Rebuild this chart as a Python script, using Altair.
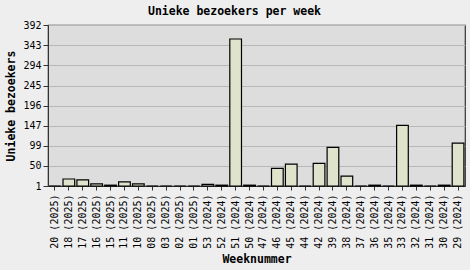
import altair as alt
import pandas as pd

# Weekly unique visitors, newest week first
weeks = ["20 (2025)", "18 (2025)", "17 (2025)", "16 (2025)", "15 (2025)",
         "11 (2025)", "10 (2025)", "08 (2025)", "03 (2025)", "02 (2025)",
         "01 (2025)", "53 (2024)", "52 (2024)", "51 (2024)", "50 (2024)",
         "47 (2024)", "46 (2024)", "45 (2024)", "44 (2024)", "42 (2024)",
         "39 (2024)", "38 (2024)", "37 (2024)", "36 (2024)", "35 (2024)",
         "33 (2024)", "32 (2024)", "31 (2024)", "30 (2024)", "29 (2024)"]
visitors = [1, 18, 16, 6, 3,
            11, 6, 1, 1, 1,
            1, 5, 3, 358, 3,
            1, 44, 54, 1, 56,
            95, 25, 1, 3, 1,
            148, 3, 1, 3, 105]
y_ticks = [1, 50, 99, 147, 196, 245, 294, 343, 392]

df = pd.DataFrame({"week": weeks, "visitors": visitors})

FONT = "DejaVu Sans Mono"

bars = alt.Chart(df).transform_calculate(
    base="1"
).mark_bar(
    fill="#dfe3cb", stroke="#000000", strokeWidth=1.2
).encode(
    x=alt.X("week:N", sort=None, title="Weeknummer",
            scale=alt.Scale(paddingInner=0.16, paddingOuter=0.08),
            axis=alt.Axis(labelAngle=270, labelFont=FONT, labelFontSize=10,
                          labelColor="#000000", labelPadding=4,
                          titleFont=FONT, titleFontSize=11.5, titleFontWeight="bold",
                          titleColor="#000000", titlePadding=5,
                          domainColor="#333333", tickColor="#333333", tickSize=4,
                          grid=False)),
    y=alt.Y("visitors:Q", title="Unieke bezoekers",
            scale=alt.Scale(domain=[1, 392], nice=False, zero=False),
            axis=alt.Axis(values=y_ticks, labelFont=FONT, labelFontSize=10,
                          labelColor="#000000", labelPadding=2,
                          titleFont=FONT, titleFontSize=11.5, titleFontWeight="bold",
                          titleColor="#000000", titlePadding=6,
                          domainColor="#333333", tickColor="#333333", tickSize=5,
                          grid=True, gridColor="#b8b8b8", gridWidth=1.2)),
    y2=alt.Y2("base:Q"),
)

chart = bars.properties(
    width=417,
    height=161,
    autosize=alt.AutoSizeParams(type="none"),
    padding={"left": 48, "top": 25, "right": 5, "bottom": 84},
    background="#eeeeee",
    title=alt.TitleParams("Unieke bezoekers per week", font=FONT, fontSize=11.5,
                          fontWeight="bold", color="#000000", offset=3, dx=-22,
                          anchor="middle"),
).configure_view(
    fill="#dddddd", stroke="#333333", strokeWidth=1.2
)

chart.save("out.html", embed_options={"renderer": "svg", "actions": False})
